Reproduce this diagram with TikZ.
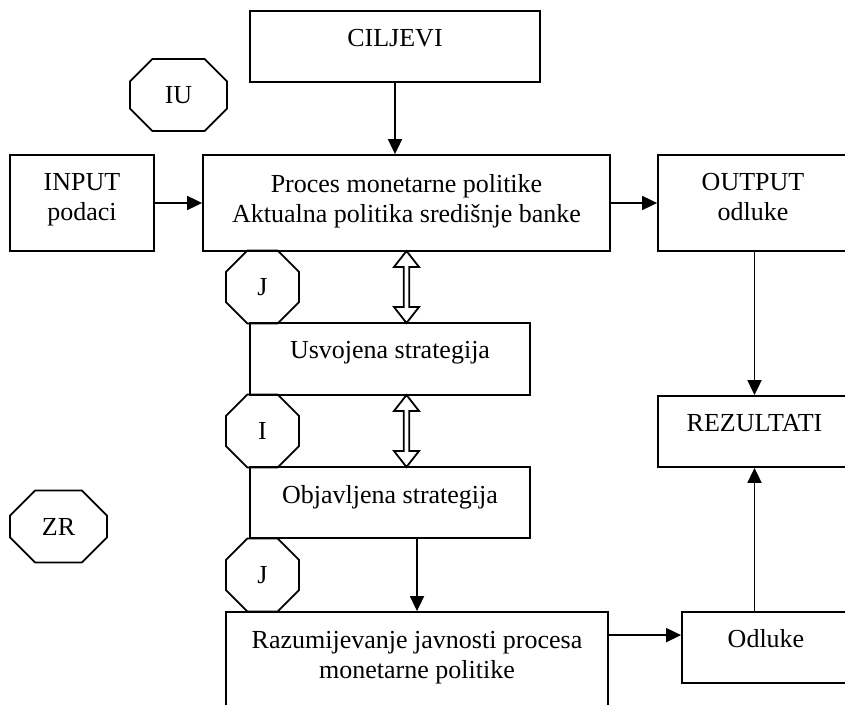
\documentclass[tikz,border=0pt]{standalone}
\usepackage{fontspec}
\setmainfont{Liberation Serif}
\usetikzlibrary{arrows.meta,positioning,calc,shapes.misc,shapes.arrows,shapes.geometric}

\begin{document}
\begin{tikzpicture}[
  x=0.5pt, y=-0.5pt,
  font=\fontsize{13}{15}\selectfont,
  box/.style={draw, line width=0.9pt, inner sep=0pt},
  txt/.style={inner sep=0pt, align=center},
  octa/.style={draw, line width=0.9pt, chamfered rectangle,
               chamfered rectangle xsep=10.5pt, chamfered rectangle ysep=10.5pt,
               inner sep=0pt, minimum height=36pt, minimum width=48.5pt},
  octs/.style={draw, line width=0.9pt, regular polygon, regular polygon sides=8,
               inner sep=0pt, minimum size=39.5pt},
  arr/.style={-{Triangle[length=7.5pt, width=7pt]}, line width=0.9pt},
  dblarr/.style={draw, line width=0.9pt, double arrow, rotate=90,
                 minimum height=36pt, minimum width=12.5pt, inner sep=0pt,
                 double arrow head extend=1.6pt, double arrow tip angle=76},
]
\useasboundingbox (0,0) rectangle (845,705);

% ---------------- top row ------------------------------------------
\node[box, minimum width=145pt, minimum height=35.5pt] (cil) at (395,46.5) {};
\node[txt, below=9.5pt of cil.north] (cilT) {CILJEVI};

\node[box, minimum width=72pt, minimum height=48pt] (inp) at (82,203) {};
\node[txt, below=9.5pt of inp.north] (inpT) {INPUT\\podaci};

\node[box, minimum width=203.5pt, minimum height=48pt] (proc) at (406.5,203) {};
\node[txt, below=10pt of proc.north] (procT)
  {Proces monetarne politike\\Aktualna politika središnje banke};

\node[box, minimum width=95pt, minimum height=48pt] (out) at (753,203) {};
\node[txt, below=9.5pt of out.north] (outT) {OUTPUT\\odluke};

% ---------------- strategy column ----------------------------------
\node[box, minimum width=140pt, minimum height=36pt] (usv) at (390,359) {};
\node[txt, below=9.5pt of usv.north] (usvT) {Usvojena strategija};

\node[box, minimum width=140pt, minimum height=35.5pt] (obj) at (390,502.5) {};
\node[txt, below=9.5pt of obj.north] (objT) {Objavljena strategija};

\node[box, minimum width=191pt, minimum height=54pt] (raz) at (417,666) {};
\node[txt, below=10pt of raz.north] (razT)
  {Razumijevanje javnosti procesa\\monetarne politike};

% ---------------- results column -----------------------------------
\node[box, minimum width=96.5pt, minimum height=35.5pt] (rez) at (754.5,431.5) {};
\node[txt, below=9.5pt of rez.north] (rezT) {REZULTATI};

\node[box, minimum width=84pt, minimum height=35.5pt] (odl) at (766,647.5) {};
\node[txt, below=9pt of odl.north] (odlT) {Odluke};

% ---------------- octagon markers ----------------------------------
\node[octa] (iu) at (178.5,95) {IU};
\node[octa] (zr) at (58.5,526.5) {ZR};
\node[octs] (j1) at (262.5,287) {J};
\node[octs] (i1) at (262.5,431) {I};
\node[octs] (j2) at (262.5,575) {J};

% ---------------- connectors ---------------------------------------
\draw[arr] (cil.south) -- (cil.south |- proc.north);
\draw[arr] (inp.east) -- (proc.west);
\draw[arr] (proc.east) -- (out.west);
\draw[arr] (rez.north |- out.south) -- (rez.north);
\draw[arr] (rez.south |- odl.north) -- (rez.south);
\draw[arr] (raz.north |- obj.south) -- (raz.north);
\draw[arr] ([yshift=-12pt]raz.north east) -- ([yshift=-12pt]raz.north east -| odl.west);

\node[dblarr] (d1) at ($(proc.south)!0.5!(proc.south |- usv.north)$) {};
\node[dblarr] (d2) at ($(proc.south |- usv.south)!0.5!(proc.south |- obj.north)$) {};

\end{tikzpicture}
\end{document}
